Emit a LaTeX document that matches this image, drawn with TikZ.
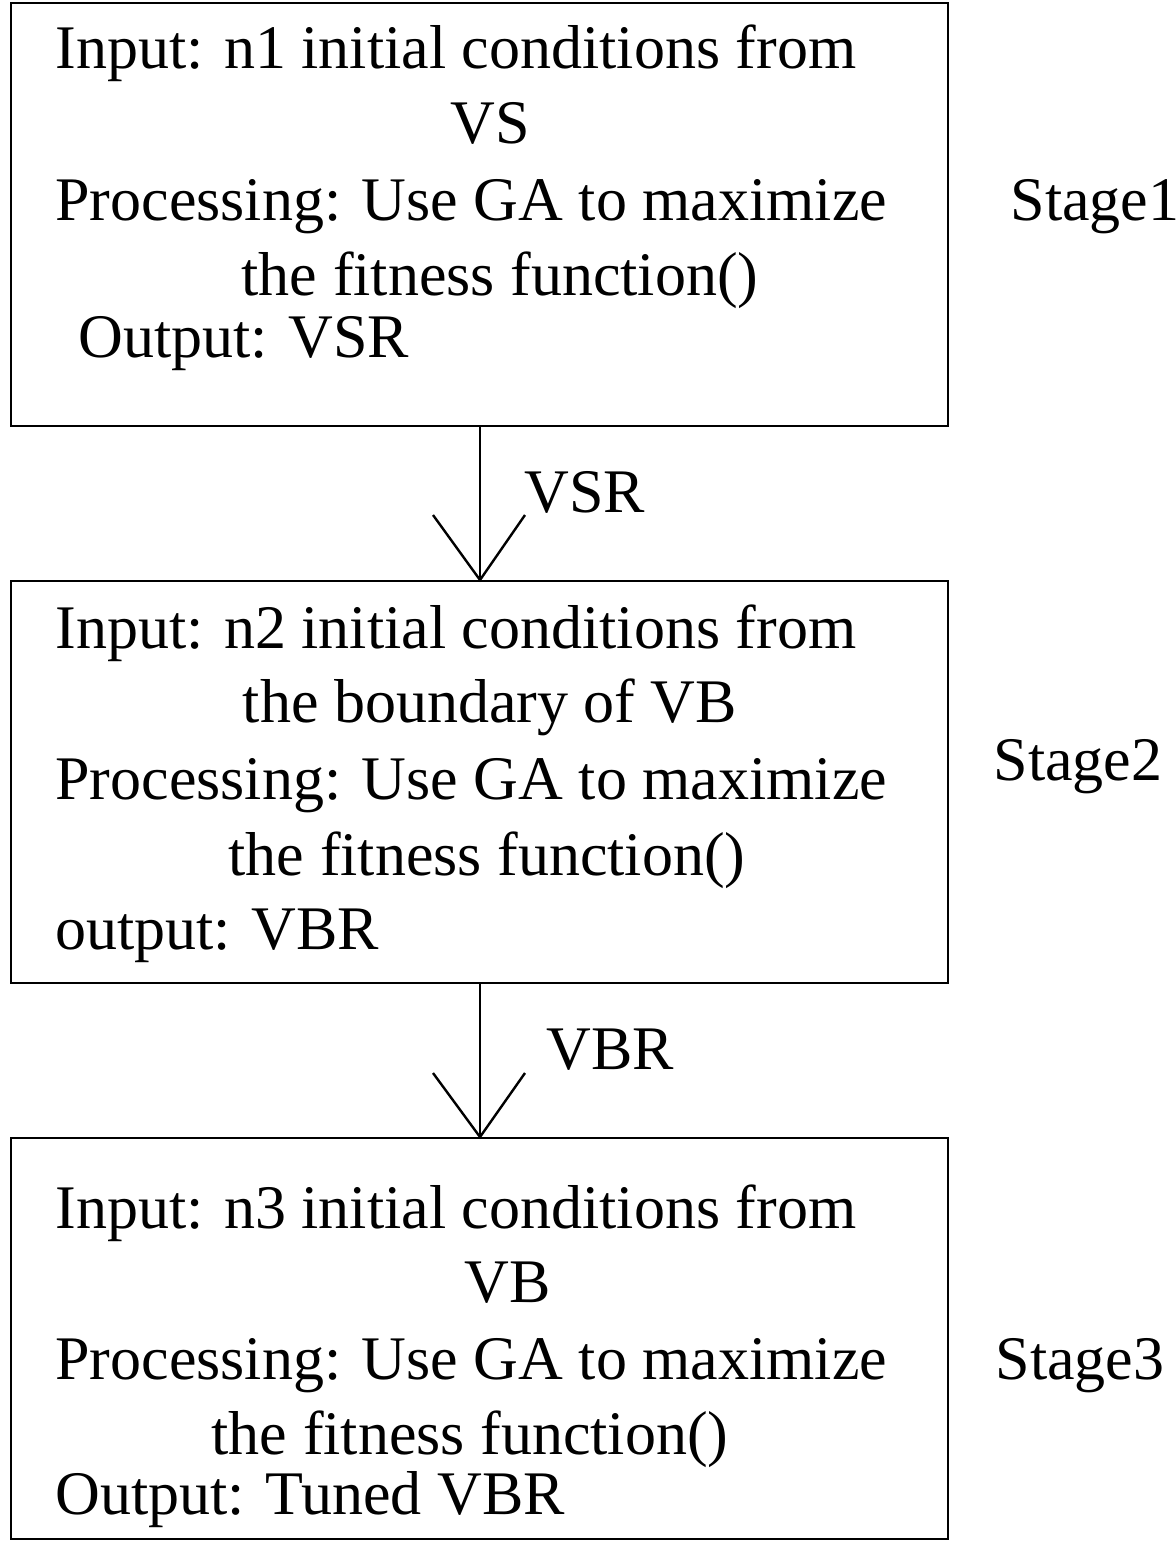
\documentclass[tikz,border=0pt]{standalone}
\usepackage{fontspec}
\setmainfont{Liberation Serif}
\begin{document}
\begin{tikzpicture}[x=0.5pt,y=-0.5pt,
  box/.style={draw,line width=1.2pt},
  txt/.style={font=\fontsize{31}{37}\selectfont,inner sep=0pt},
  conn/.style={line width=1.2pt}]
\useasboundingbox (0,0) rectangle (1176,1542);
% boxes
\node[box,minimum width=468.5pt,minimum height=211.5pt,anchor=north west] (b1) at (10,2) {};
\node[box,minimum width=468.5pt,minimum height=201pt,anchor=north west] (b2) at (10,580) {};
\node[box,minimum width=468.5pt,minimum height=200.5pt,anchor=north west] (b3) at (10,1137) {};
% box 1 text
\node[txt,anchor=base west] (t11) at (55,68) {Input: n1 initial conditions from};
\node[txt,anchor=base] (t12) at (490,143) {VS};
\node[txt,anchor=base west] (t13) at (55,220) {Processing: Use GA to maximize};
\node[txt,anchor=base] (t14) at (500,295) {the fitness function()};
\node[txt,anchor=base west] (t15) at (78,357) {Output: VSR};
% box 2 text
\node[txt,anchor=base west] (t21) at (55,648) {Input: n2 initial conditions from};
\node[txt,anchor=base] (t22) at (490,722) {the boundary of VB};
\node[txt,anchor=base west] (t23) at (55,799) {Processing: Use GA to maximize};
\node[txt,anchor=base] (t24) at (487,875) {the fitness function()};
\node[txt,anchor=base west] (t25) at (55,949) {output: VBR};
% box 3 text
\node[txt,anchor=base west] (t31) at (55,1228) {Input: n3 initial conditions from};
\node[txt,anchor=base] (t32) at (508,1302) {VB};
\node[txt,anchor=base west] (t33) at (55,1379) {Processing: Use GA to maximize};
\node[txt,anchor=base] (t34) at (470,1454) {the fitness function()};
\node[txt,anchor=base west] (t35) at (55,1514) {Output: Tuned VBR};
% stage labels
\node[txt,anchor=base] (s1) at (1095,220) {Stage1};
\node[txt,anchor=base] (s2) at (1078,780) {Stage2};
\node[txt,anchor=base] (s3) at (1080,1379) {Stage3};
% connectors
\coordinate (a1) at (480,580);
\coordinate (a2) at (480,1137);
\draw[conn] (480,425) coordinate (o1) -- (a1);
\draw[conn] (433,515) -- (a1) -- (525,515);
\draw[conn] (480,982) coordinate (o2) -- (a2);
\draw[conn] (433,1073) -- (a2) -- (525,1073);
\node[txt,anchor=base] (l1) at (585,512) {VSR};
\node[txt,anchor=base] (l2) at (610,1069) {VBR};
\end{tikzpicture}
\end{document}
